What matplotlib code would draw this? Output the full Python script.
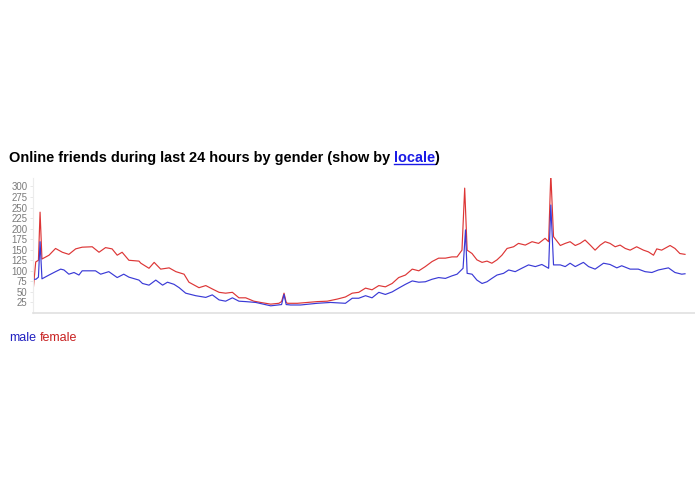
import numpy as np
import matplotlib
matplotlib.use('Agg')
import matplotlib.pyplot as plt
from matplotlib.lines import Line2D

plt.rcParams['font.family'] = ['Liberation Sans', 'DejaVu Sans']

# hours since start of the 24 h window, and online friend counts

female_hours = [0.00, 0.10, 0.20, 0.26, 0.33, 0.59, 0.83, 1.08, 1.32, 1.57, 1.81, 2.18, 2.43,
                2.67, 2.91, 3.10, 3.28, 3.53, 3.90, 3.97, 4.27, 4.46, 4.70, 5.01, 5.26, 5.56,
                5.74, 6.11, 6.36, 6.60, 6.85, 7.09, 7.34, 7.58, 7.83, 8.13, 8.38, 8.75, 9.05,
                9.15, 9.24, 9.32, 9.37, 9.73, 10.10, 10.46, 10.83, 11.20, 11.50, 11.75, 11.99,
                12.24, 12.48, 12.73, 12.97, 13.22, 13.46, 13.71, 13.96, 14.20, 14.44, 14.69,
                14.93, 15.18, 15.42, 15.61, 15.79, 15.89, 15.98, 16.16, 16.34, 16.53, 16.71,
                16.89, 17.08, 17.26, 17.45, 17.69, 17.87, 18.12, 18.37, 18.61, 18.85, 18.98,
                19.06, 19.16, 19.41, 19.59, 19.77, 19.96, 20.14, 20.32, 20.51, 20.69, 20.88,
                21.06, 21.24, 21.43, 21.61, 21.80, 21.98, 22.22, 22.47, 22.65, 22.84, 22.96,
                23.14, 23.45, 23.63, 23.81, 24.00]
female = [50, 121, 125, 239, 128, 137, 153, 144, 139, 152, 156, 157, 144,
          155, 152, 137, 144, 125, 123, 118, 106, 120, 104, 107, 98, 92,
          73, 60, 65, 57, 49, 47, 49, 36, 36, 28, 25, 21, 23,
          27, 47, 25, 23, 23, 25, 27, 28, 33, 38, 47, 49,
          59, 55, 65, 62, 70, 84, 90, 104, 100, 110, 122,
          130, 130, 133, 133, 149, 296, 149, 141, 126, 120, 123,
          118, 126, 137, 153, 157, 165, 161, 169, 165, 177, 169,
          330, 181, 160, 165, 169, 160, 165, 173, 161, 149, 161,
          169, 165, 157, 161, 153, 149, 157, 149, 145, 137, 152,
          149, 160, 153, 141, 139]

male_hours = [0.00, 0.11, 0.20, 0.26, 0.33, 0.59, 0.83, 1.02, 1.14, 1.32, 1.51, 1.69, 1.81,
              2.30, 2.49, 2.79, 3.10, 3.34, 3.53, 3.90, 4.03, 4.27, 4.52, 4.77, 4.95, 5.19,
              5.38, 5.62, 5.99, 6.36, 6.60, 6.85, 7.09, 7.34, 7.58, 7.83, 8.20, 8.75, 9.15,
              9.24, 9.32, 9.48, 9.85, 10.46, 10.95, 11.50, 11.75, 11.99, 12.24, 12.48, 12.73,
              12.97, 13.22, 13.46, 13.71, 13.96, 14.20, 14.44, 14.69, 14.93, 15.18, 15.42,
              15.61, 15.83, 15.92, 15.98, 16.16, 16.34, 16.53, 16.71, 16.89, 17.08, 17.32,
              17.51, 17.75, 17.99, 18.24, 18.49, 18.73, 18.98, 19.06, 19.16, 19.41, 19.59,
              19.77, 19.96, 20.26, 20.45, 20.69, 21.00, 21.24, 21.49, 21.67, 21.98, 22.28,
              22.53, 22.78, 23.02, 23.39, 23.63, 23.88, 24.00]
male = [80, 80, 85, 169, 81, 90, 98, 104, 102, 92, 96, 90, 100,
        100, 92, 98, 84, 92, 85, 78, 70, 66, 78, 66, 73, 68,
        60, 47, 41, 37, 43, 31, 28, 36, 28, 27, 25, 17, 20,
        44, 20, 19, 19, 23, 25, 23, 35, 35, 41, 36, 49,
        44, 50, 59, 68, 76, 73, 74, 80, 84, 82, 88,
        92, 106, 197, 94, 92, 78, 70, 74, 82, 90, 94,
        102, 98, 106, 114, 110, 115, 106, 256, 114, 114, 110,
        118, 110, 120, 110, 104, 118, 115, 107, 112, 104, 104,
        98, 96, 102, 107, 96, 92, 93]

yticks = [25, 50, 75, 100, 125, 150, 175, 200, 225, 250, 275, 300]

fig = plt.figure(figsize=(6.95, 4.94), dpi=100)
ax = fig.add_axes([33 / 695, 181 / 494, 662 / 695, 135 / 494])

ax.plot(female_hours, female, color='#dd3636', linewidth=0.85)
ax.plot(male_hours, male, color='#3a3ad6', linewidth=0.85)

ax.set_xlim(0, 24 * 663 / 653)
ax.set_ylim(0, 320)
ax.set_yticks(yticks)
ax.set_yticklabels([str(v) for v in yticks])
ax.set_xticks([])
ax.tick_params(axis='y', length=2, width=0.6, color='#e4e4e4', pad=2,
               labelsize=6.9, labelcolor='#7a7a7a')
for s in ['top', 'right']:
    ax.spines[s].set_visible(False)
ax.spines['left'].set_color('#ececec')
ax.spines['left'].set_linewidth(0.8)
ax.spines['bottom'].set_color('#e0e0e0')
ax.spines['bottom'].set_linewidth(1.2)

# title with the blue underlined link word
W, H = 695, 494
t1 = fig.text(9 / W, 1 - 162 / H, 'Online friends during last 24 hours by gender (show by ',
              fontsize=10.45, fontweight='bold', color='black', va='baseline')
fig.canvas.draw()
r = fig.canvas.get_renderer()
bb = t1.get_window_extent(r)
t2 = fig.text(bb.x1 / W, 1 - 162 / H, 'locale', fontsize=10.45, fontweight='bold',
              color='#1a1ae6', va='baseline')
bb2 = t2.get_window_extent(r)
fig.text(bb2.x1 / W, 1 - 162 / H, ')', fontsize=10.45, fontweight='bold', color='black',
         va='baseline')
fig.add_artist(Line2D([bb2.x0 / W, bb2.x1 / W], [1 - 164.5 / H, 1 - 164.5 / H],
                      color='#1a1ae6', linewidth=1.0, transform=fig.transFigure))

# legend as coloured words
l1 = fig.text(9 / W, 1 - 341 / H, 'male', fontsize=9, color='#2020c0', va='baseline')
bl = l1.get_window_extent(r)
fig.text((bl.x1 + 4) / W, 1 - 341 / H, 'female', fontsize=9, color='#c82020', va='baseline')

fig.savefig('out.png', dpi=100)
